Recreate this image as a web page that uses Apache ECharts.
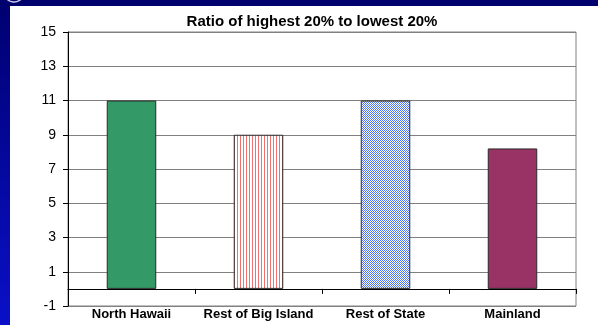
<!DOCTYPE html>
<html>
<head>
<meta charset="utf-8">
<script src="https://cdn.jsdelivr.net/npm/echarts@6/dist/echarts.min.js"></script>
<style>
  html, body { margin: 0; padding: 0; }
  #chart { width: 598px; height: 325px; }
</style>
</head>
<body>
<div id="chart"></div>
<script>
// Income ratio by region
const categories = ['North Hawaii', 'Rest of Big Island', 'Rest of State', 'Mainland'];
const ratios = [11, 9, 11, 8.2];
const chartTitle = 'Ratio of highest 20% to lowest 20%';

// Fill patterns for the hatched bars
function stripePattern() {
  const c = document.createElement('canvas');
  c.width = 3; c.height = 3;
  const g = c.getContext('2d');
  g.fillStyle = '#ffffff'; g.fillRect(0, 0, 3, 3);
  g.fillStyle = '#f07070'; g.fillRect(0, 0, 1, 3);
  return c;
}
function checkerPattern() {
  const c = document.createElement('canvas');
  c.width = 2; c.height = 2;
  const g = c.getContext('2d');
  g.fillStyle = '#ffffff'; g.fillRect(0, 0, 2, 2);
  g.fillStyle = '#4f74f0';
  g.fillRect(0, 0, 1, 1); g.fillRect(1, 1, 1, 1);
  return c;
}

const fills = [
  '#339966',
  { image: stripePattern(), repeat: 'repeat' },
  { image: checkerPattern(), repeat: 'repeat' },
  '#993366'
];

const chart = echarts.init(document.getElementById('chart'), null, { renderer: 'canvas' });
chart.setOption({
  animation: false,
  backgroundColor: 'transparent',
  graphic: [
    {
      type: 'rect', z: -10, silent: true,
      shape: { x: 0, y: 0, width: 598, height: 325 },
      style: {
        fill: new echarts.graphic.LinearGradient(0, 0, 0, 1, [
          { offset: 0, color: '#000070' },
          { offset: 1, color: '#0a10c8' }
        ])
      }
    },
    {
      type: 'rect', z: -9, silent: true,
      shape: { x: 0, y: 0, width: 598, height: 6 },
      style: { fill: '#00006e' }
    },
    {
      type: 'rect', z: -8, silent: true,
      shape: { x: 10, y: 6, width: 588, height: 319 },
      style: { fill: '#ffffff' }
    },
    {
      type: 'arc', z: -7, silent: true,
      shape: { cx: 14, cy: -8, r: 10, startAngle: 0.2, endAngle: 2.6 },
      style: { stroke: '#c8c8e8', lineWidth: 1.5, fill: null }
    }
  ],
  title: {
    text: chartTitle,
    left: 307, top: 9, textAlign: 'center',
    textStyle: { fontFamily: 'Liberation Sans, Arial', fontSize: 15, fontWeight: 'bold', color: '#000' }
  },
  grid: {
    left: 68, right: 22, top: 32, bottom: 19,
    outerBoundsMode: 'none',
    containLabel: false,
    show: true, borderColor: '#808080', borderWidth: 1, backgroundColor: 'transparent'
  },
  xAxis: {
    type: 'category',
    data: categories,
    axisLine: { onZero: true, lineStyle: { color: '#000', width: 1 } },
    axisTick: { show: true, length: 5, lineStyle: { color: '#000' } },
    axisLabel: {
      margin: 2,
      fontFamily: 'Liberation Sans, Arial', fontSize: 13, fontWeight: 'bold', color: '#000',
      interval: 0
    }
  },
  yAxis: {
    type: 'value',
    min: -1, max: 15, interval: 2,
    axisLine: { show: true, lineStyle: { color: '#000', width: 1 } },
    axisTick: { show: true, length: 5, lineStyle: { color: '#000' } },
    axisLabel: { margin: 12, fontFamily: 'Liberation Sans, Arial', fontSize: 14, color: '#000' },
    splitLine: { show: true, lineStyle: { color: '#808080', width: 1 } }
  },
  series: [{
    type: 'bar',
    barWidth: '39%',
    data: ratios.map((v, i) => ({
      value: v,
      itemStyle: { color: fills[i], borderColor: '#2a2a2a', borderWidth: 1 }
    }))
  }]
});
</script>
</body>
</html>
